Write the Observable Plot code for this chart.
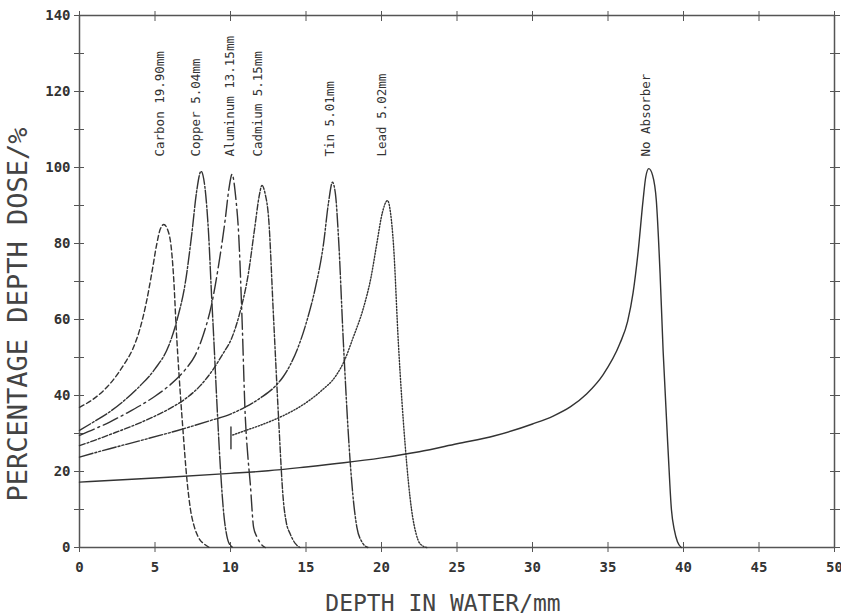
<!DOCTYPE html>
<html><head><meta charset="utf-8">
<script src="https://cdn.jsdelivr.net/npm/d3@7"></script>
<script src="https://cdn.jsdelivr.net/npm/@observablehq/plot@0.6"></script>
<style>body{margin:0;background:#fff}</style>
</head><body><div id="chart"></div>
<script>
// depth in water (mm), percentage depth dose (%)
const carbon = [[0,36.9],[1,39.3],[2,43],[3,48.5],[3.5,52],[4,57.5],[4.4,64],[4.8,72.5],[5.1,79.5],[5.35,83.8],[5.58,85],[5.85,83.5],[6.1,78],[6.25,70],[6.4,58],[6.6,45],[6.85,31],[7.1,18.5],[7.35,10],[7.6,5.5],[7.9,2.5],[8.3,0.8],[8.6,0]];
const copper = [[0,30.8],[1,33.2],[2,35.7],[3,38.8],[4,42.5],[5,47],[5.9,53],[6.5,60.5],[7,69.5],[7.45,83],[7.75,93.5],[8.05,99],[8.3,95],[8.55,82.5],[8.75,66],[8.88,56],[9.1,38],[9.33,21],[9.55,9],[9.75,3.2],[10.0,0.5],[10.2,0]];
const aluminum = [[0,29.5],[1,31.2],[2,33],[3,35.1],[4,37.3],[5,39.8],[6,42.8],[7,46.8],[7.65,50.5],[8.2,56],[8.75,64],[9.2,74],[9.64,86],[9.9,94.5],[10.1,98.2],[10.35,92],[10.54,82.5],[10.76,60.6],[10.98,34.3],[11.15,24],[11.31,16.8],[11.53,5.3],[11.75,2.8],[11.97,1.2],[12.3,0]];
const cadmium = [[0,26.8],[1,28.2],[2,29.7],[3,31.2],[4,32.8],[5,34.6],[6,36.6],[7,39.1],[8,42.6],[8.75,46.3],[9.5,51],[10.07,55],[10.6,61.5],[11.18,72],[11.6,84],[11.9,92.5],[12.08,95.3],[12.3,93],[12.52,86.9],[12.85,60.6],[13.18,34.3],[13.5,12.4],[13.7,6.5],[13.95,3.6],[14.3,1],[14.6,0]];
const tin = [[0,23.8],[2,26],[4,28.1],[6.5,30.8],[8.75,33.5],[10,35.1],[11,37],[12,39.4],[13,42.6],[13.5,45],[13.95,48],[14.6,54],[15.06,59.7],[15.6,68],[16.16,79.9],[16.5,91],[16.75,96.1],[16.95,93],[17.15,81.7],[17.48,53.6],[17.92,22.9],[18.1,14],[18.37,5.3],[18.7,1.5],[19.1,0]];
const lead = [[10.15,29.6],[11,30.8],[12,32.2],[13,33.8],[14,35.7],[15,38.1],[16,41.2],[17,45.3],[17.5,48.8],[18.1,55],[18.8,63],[19.3,71],[19.69,80],[20.05,88],[20.4,91.3],[20.6,88],[20.79,79.9],[21.12,53.6],[21.56,27.3],[22.0,9.7],[22.3,3.5],[22.55,1],[23,0]];
const leadStartMark = [[10.03,26],[10.03,31.7]];
const noAbsorber = [[0,17.2],[5,18.3],[10,19.5],[12.5,20.2],[15,21.2],[17.5,22.3],[20,23.6],[22.5,25.2],[25,27.3],[27.5,29.4],[30,32.5],[31.37,34.6],[32.5,37],[33.58,40.4],[34.68,45.5],[35.78,53.6],[36.3,59.5],[36.66,67],[37.0,78],[37.32,91.3],[37.5,97.5],[37.7,99.7],[37.95,98],[38.2,91.3],[38.45,72],[38.65,51.8],[38.98,25.5],[39.2,10],[39.4,4.5],[39.6,1.5],[39.85,0]];

const curveNames = ["Carbon 19.90mm","Copper 5.04mm","Aluminum 13.15mm","Cadmium 5.15mm","Tin 5.01mm","Lead 5.02mm","No Absorber"];
const labelDepth = [5.3,7.7,9.95,11.85,16.6,20.05,37.5];
const labelDose = 102.9;

const xTicks = [0,5,10,15,20,25,30,35,40,45,50];
const yTicks = [0,10,20,30,40,50,60,70,80,90,100,110,120,130,140];
const yLabelled = [0,20,40,60,80,100,120,140];

const ink = "#333";
const series = [
  {data: carbon, dash: "5,3"},
  {data: copper, dash: "13,2,2,2"},
  {data: aluminum, dash: "16,4,2,4"},
  {data: cadmium, dash: "6,2,2,2"},
  {data: tin, dash: "14,2,2,2,2,2"},
  {data: lead, dash: "1.3,1.7"},
  {data: noAbsorber, dash: null}
];
const labels = curveNames.map((n, i) => ({name: n, x: labelDepth[i], y: labelDose}));

const chart = Plot.plot({
  width: 841, height: 616,
  marginLeft: 79, marginRight: 7, marginTop: 15, marginBottom: 69,
  x: {domain: [0, 50]},
  y: {domain: [0, 140]},
  style: {fontFamily: "'DejaVu Sans Mono', monospace", color: ink, background: "#fff"},
  marks: [
    Plot.frame({stroke: "#555", strokeWidth: 1.5}),
    Plot.axisX(xTicks, {anchor: "bottom", tickSize: 10, dy: -5, tickPadding: 10, fontSize: 14, fontWeight: 600, label: null, stroke: "#555"}),
    Plot.axisX(xTicks, {anchor: "top", tickSize: 10, dy: 5, tickFormat: () => "", label: null, stroke: "#555"}),
    Plot.axisY(yTicks, {anchor: "left", tickSize: 10, dx: 5, tickPadding: 4, fontSize: 14, fontWeight: 600, label: null, stroke: "#555",
      tickFormat: d => yLabelled.includes(d) ? String(d) : ""}),
    Plot.axisY(yTicks, {anchor: "right", tickSize: 10, dx: -5, tickFormat: () => "", label: null, stroke: "#555"}),
    ...series.map(s => Plot.line(s.data, {x: d => d[0], y: d => d[1], curve: "monotone-x", stroke: ink, strokeWidth: 1.4, strokeDasharray: s.dash})),
    Plot.line(leadStartMark, {x: d => d[0], y: d => d[1], stroke: ink, strokeWidth: 1.4}),
    Plot.text(labels, {x: "x", y: "y", text: "name", rotate: -90, textAnchor: "start", fontSize: 12.5, fill: ink}),
    Plot.text(["DEPTH IN WATER/mm"], {text: d => d, frameAnchor: "bottom", textAnchor: "middle", lineAnchor: "bottom", dy: 63, dx: -14, fontSize: 23, fill: "#444"}),
    Plot.text(["PERCENTAGE DEPTH DOSE/%"], {text: d => d, frameAnchor: "left", textAnchor: "middle", lineAnchor: "middle", rotate: -90, dx: -61, dy: 33, fontSize: 27, fill: "#444"})
  ]
});
document.getElementById("chart").append(chart);
</script>
</body></html>
